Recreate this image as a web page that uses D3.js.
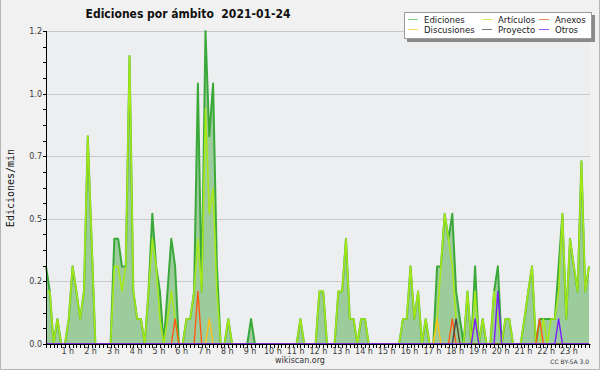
<!DOCTYPE html>
<meta charset="utf-8">
<head>
  <style>
    body { margin: 0; background: #f1f1f1; }
    svg { display: block; }
    text { font-family: "DejaVu Sans", sans-serif; }
    .title { font-family: "DejaVu Sans Condensed", "DejaVu Sans", sans-serif; font-weight: bold; font-size: 12px; fill: #111; white-space: pre; }
    .ylabel { font-family: "DejaVu Sans Mono", monospace; font-size: 10px; fill: #111; }
    .tick-label { font-family: "DejaVu Sans", sans-serif; font-size: 8px; fill: #3a3a3a; }
    .legend-text { font-family: "DejaVu Sans Condensed", "DejaVu Sans", sans-serif; font-size: 9.5px; fill: #222; }
    .grid { stroke: #c9c9c9; stroke-width: 1px; }
    .axis { stroke: #000; stroke-width: 1px; fill: none; }
  </style>
  <script src="https://d3js.org/d3.v7.min.js"></script>
</head>
<body>
  <svg width="600" height="370"></svg>
  <script>
    // 10-minute bins over the day, edits per minute
    var ediciones = [
      0.31,0.21,0,0.1,0,0,0.1,0.31,0.21,0.1,0.21,0.83,
      0.42,0,0,0,0,0,0.42,0.42,0.31,0.31,1.15,0.21,
      0.1,0.1,0,0.21,0.52,0.31,0.21,0,0.21,0.42,0.31,0,
      0,0.1,0.1,0.21,1.04,0.21,1.25,0.83,1.04,0.31,0,0,
      0.1,0,0,0,0,0,0.1,0,0,0,0,0,
      0,0,0,0,0,0,0,0.1,0,0,0,0,
      0.21,0.21,0,0,0,0.21,0.21,0.42,0.1,0.1,0,0.1,
      0.1,0,0,0,0,0,0,0,0,0,0.1,0.1,
      0.31,0.1,0.21,0,0.1,0,0,0.31,0.31,0.52,0.42,0.52,
      0.21,0.1,0,0.21,0,0.31,0,0.1,0,0,0.21,0.31,
      0,0.1,0.1,0,0,0,0.1,0.21,0.31,0,0.1,0.1,
      0.1,0.1,0.1,0.31,0.52,0.1,0.42,0.31,0.21,0.73,0.21,0.31
    ];
    var articulos = [
      0.21,0.21,0,0.1,0,0,0.1,0.31,0.21,0.1,0.21,0.83,
      0.42,0,0,0,0,0,0.31,0.31,0.21,0.31,1.15,0.21,
      0.1,0.1,0,0.21,0.42,0.31,0.1,0,0.1,0.21,0.1,0,
      0,0.1,0.1,0.21,0.42,0.21,0.94,0.52,0.62,0.21,0,0,
      0.1,0,0,0,0,0,0,0,0,0,0,0,
      0,0,0,0,0,0,0,0.1,0,0,0,0,
      0.21,0.21,0,0,0,0.21,0.21,0.42,0.1,0.1,0,0.1,
      0.1,0,0,0,0,0,0,0,0,0,0.1,0.1,
      0.31,0.1,0.21,0,0.1,0,0,0.1,0.31,0.52,0.42,0.31,
      0.1,0,0,0.21,0,0.21,0,0.1,0,0,0.21,0.1,
      0,0.1,0.1,0,0,0,0.1,0.21,0.31,0,0,0.1,
      0,0.1,0.1,0.21,0.52,0.1,0.42,0.31,0.21,0.73,0.21,0.31
    ];
    var anexos = [
      0,0,0,0,0,0,0,0,0,0,0,0,
      0,0,0,0,0,0,0,0,0,0,0,0,
      0,0,0,0,0,0,0,0,0,0,0.1,0,
      0,0,0,0,0.21,0,0,0,0,0,0,0,
      0,0,0,0,0,0,0,0,0,0,0,0,
      0,0,0,0,0,0,0,0,0,0,0,0,
      0,0,0,0,0,0,0,0,0,0,0,0,
      0,0,0,0,0,0,0,0,0,0,0,0,
      0,0,0,0,0,0,0,0,0,0,0,0.1,
      0,0,0,0,0,0,0,0,0,0,0,0,
      0,0,0,0,0,0,0,0,0,0,0.1,0,
      0,0,0,0,0,0,0,0,0,0,0,0
    ];
    var discusiones = [
      0,0,0,0,0,0,0,0,0,0,0,0,
      0,0,0,0,0,0,0,0,0,0,0,0,
      0,0,0,0,0,0,0,0,0,0,0,0,
      0,0,0,0,0,0,0,0.1,0,0,0,0,
      0,0,0,0,0,0,0,0,0,0,0,0,
      0,0,0,0,0,0,0,0,0,0,0,0,
      0,0,0,0,0,0,0,0,0,0,0,0,
      0,0,0,0,0,0,0,0,0,0,0,0,
      0,0,0,0,0,0,0,0.1,0,0,0,0,
      0,0,0,0,0,0,0,0,0,0,0,0,
      0,0,0,0,0,0,0,0,0,0,0,0,
      0,0,0,0,0,0,0,0,0,0,0,0
    ];
    var proyecto = [
      0,0,0,0,0,0,0,0,0,0,0,0,
      0,0,0,0,0,0,0,0,0,0,0,0,
      0,0,0,0,0,0,0,0,0,0,0,0,
      0,0,0,0,0,0,0,0,0,0,0,0,
      0,0,0,0,0,0,0,0,0,0,0,0,
      0,0,0,0,0,0,0,0,0,0,0,0,
      0,0,0,0,0,0,0,0,0,0,0,0,
      0,0,0,0,0,0,0,0,0,0,0,0,
      0,0,0,0,0,0,0,0,0,0,0,0,
      0.1,0,0,0,0,0,0,0,0,0,0,0,
      0,0,0,0,0,0,0,0,0,0,0,0,
      0,0,0,0,0,0,0,0,0,0,0,0
    ];
    var otros = [
      0,0,0,0,0,0,0,0,0,0,0,0,
      0,0,0,0,0,0,0,0,0,0,0,0,
      0,0,0,0,0,0,0,0,0,0,0,0,
      0,0,0,0,0,0,0,0,0,0,0,0,
      0,0,0,0,0,0,0,0,0,0,0,0,
      0,0,0,0,0,0,0,0,0,0,0,0,
      0,0,0,0,0,0,0,0,0,0,0,0,
      0,0,0,0,0,0,0,0,0,0,0,0,
      0,0,0,0,0,0,0,0,0,0,0,0,
      0,0,0,0,0,0.1,0,0,0,0,0,0.21,
      0,0,0,0,0,0,0,0,0,0,0,0,
      0,0,0,0.1,0,0,0,0,0,0,0,0
    ];

    var yTicks = [0, 0.25, 0.5, 0.75, 1.0, 1.25];
    var yTickLabels = ["0.0", "0.2", "0.5", "0.7", "1.0", "1.2"];
    var hourLabels = ["1 h","2 h","3 h","4 h","5 h","6 h","7 h","8 h","9 h","10 h","11 h","12 h",
                      "13 h","14 h","15 h","16 h","17 h","18 h","19 h","20 h","21 h","22 h","23 h"];
    var seriesNames = ["Ediciones", "Artículos", "Anexos", "Discusiones", "Proyecto", "Otros"];
    var seriesColors = ["#3aa93a", "#a6e81a", "#ff5a14", "#ffc21a", "#444444", "#7a1cff"];
    var legendColors = ["#7fcc7f", "#c8ee5a", "#f08a5c", "#ffd860", "#777777", "#9a5cf0"];

    var svg = d3.select("svg"),
      width = +svg.attr("width"),
      height = +svg.attr("height");

    var pLeft = 46, pRight = 589, pTop = 31, pBottom = 344;

    // minutes of the day for each 10 min bin
    var x = d3.scaleLinear().domain([0, 1430]).range([pLeft, pRight]);
    var y = d3.scaleLinear().domain([0, 1.25]).range([pBottom, pTop]);

    svg.append("rect").attr("width", width).attr("height", height).attr("fill", "#f1f1f1");
    svg.append("rect")
      .attr("x", pLeft).attr("y", pTop)
      .attr("width", pRight - pLeft + 1).attr("height", pBottom - pTop)
      .attr("fill", "#edeef0");

    // frame
    svg.append("path").attr("d", "M0.5,0 V369.5 H599.5 V0").attr("fill", "none").attr("stroke", "#b5b5b5");

    // grid
    svg.selectAll(".grid").data(yTicks.slice(1)).enter().append("line")
      .attr("class", "grid")
      .attr("x1", pLeft).attr("x2", pRight + 1)
      .attr("y1", function(d) { return Math.round(y(d)) + 0.5; })
      .attr("y2", function(d) { return Math.round(y(d)) + 0.5; });

    var line = function(vals) {
      return d3.line()
        .x(function(d, i) { return x(i * 10); })
        .y(function(d) { return y(d); })(vals);
    };

    var area = d3.area()
      .x(function(d, i) { return x(i * 10); })
      .y0(y(0))
      .y1(function(d) { return y(d); });

    svg.append("path").datum(ediciones)
      .attr("d", area)
      .attr("fill", "#9ccb9c");

    var allSeries = [ediciones, articulos, anexos, discusiones, proyecto, otros];
    var widths = [2, 1.6, 1.4, 1.4, 1.4, 1.4];
    allSeries.forEach(function(vals, k) {
      svg.append("path")
        .attr("d", line(vals))
        .attr("fill", "none")
        .attr("stroke", seriesColors[k])
        .attr("stroke-width", widths[k])
        .attr("stroke-linejoin", "round");
    });

    // y axis
    svg.append("line").attr("class", "axis")
      .attr("x1", pLeft + 0.5).attr("x2", pLeft + 0.5)
      .attr("y1", pTop).attr("y2", pBottom + 1);
    svg.selectAll(".yminor").data(d3.range(0, 1.25001, 0.0625)).enter().append("line")
      .attr("class", "axis")
      .attr("x1", pLeft - 3).attr("x2", pLeft)
      .attr("y1", function(d) { return Math.round(y(d)) + 0.5; })
      .attr("y2", function(d) { return Math.round(y(d)) + 0.5; });
    svg.selectAll(".ylab").data(yTicks).enter().append("text")
      .attr("class", "tick-label")
      .attr("x", pLeft - 4)
      .attr("y", function(d) { return y(d) + 3; })
      .attr("text-anchor", "end")
      .text(function(d, i) { return yTickLabels[i]; });

    // x axis
    svg.append("line").attr("class", "axis")
      .attr("x1", pLeft).attr("x2", pRight + 1.5)
      .attr("y1", pBottom + 0.5).attr("y2", pBottom + 0.5);
    svg.selectAll(".xminor").data(d3.range(0, 1431, 10)).enter().append("line")
      .attr("class", "axis")
      .attr("x1", function(d) { return Math.round(x(d)) + 0.5; })
      .attr("x2", function(d) { return Math.round(x(d)) + 0.5; })
      .attr("y1", pBottom + 1).attr("y2", pBottom + 4);
    svg.selectAll(".xlab").data(hourLabels).enter().append("text")
      .attr("class", "tick-label")
      .attr("x", function(d, i) { return x((i + 1) * 60) - 1; })
      .attr("y", 353.5)
      .attr("text-anchor", "middle")
      .text(function(d) { return d; });

    // titles
    svg.append("text").attr("class", "title")
      .attr("x", 188).attr("y", 18).attr("text-anchor", "middle")
      .text("Ediciones por ámbito  2021-01-24");
    svg.append("text").attr("class", "ylabel")
      .attr("transform", "translate(14,188) rotate(-90)")
      .attr("text-anchor", "middle")
      .text("Ediciones/min");
    svg.append("text").attr("class", "tick-label")
      .attr("x", 300).attr("y", 363).attr("text-anchor", "middle")
      .style("fill", "#333")
      .text("wikiscan.org");
    svg.append("text").attr("class", "tick-label")
      .attr("x", 589).attr("y", 364).attr("text-anchor", "end")
      .style("font-size", "6px").style("fill", "#333")
      .text("CC BY-SA 3.0");

    // legend
    var lg = svg.append("g");
    lg.append("rect").attr("x", 407).attr("y", 15).attr("width", 188).attr("height", 27).attr("fill", "#8a8a8a");
    lg.append("rect").attr("x", 404.5).attr("y", 12.5).attr("width", 187).attr("height", 26)
      .attr("fill", "#fff").attr("stroke", "#9a9a9a");
    var colX = [408, 482, 539];
    seriesNames.forEach(function(name, k) {
      var cx = colX[k % 3], cy = k < 3 ? 19.5 : 29.5;
      lg.append("line").attr("x1", cx).attr("x2", cx + 10)
        .attr("y1", cy).attr("y2", cy)
        .attr("stroke", legendColors[k]).attr("stroke-width", 1);
      lg.append("text").attr("class", "legend-text")
        .attr("x", cx + 16).attr("y", cy + 3)
        .text(name);
    });
  </script>
</body>
